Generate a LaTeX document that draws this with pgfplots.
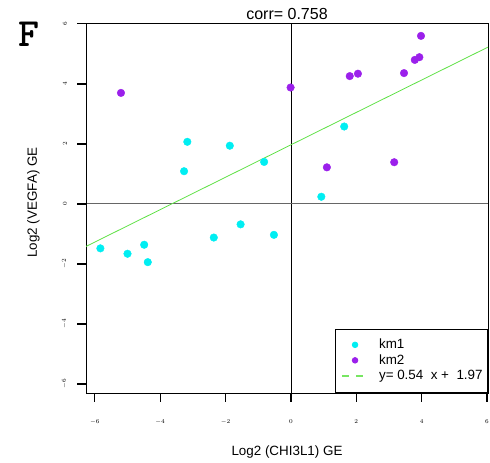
\documentclass[border=0pt]{standalone}
\usepackage{pgfplots}
\pgfplotsset{compat=1.18}
\usepackage{fontspec}
\setmainfont{Liberation Sans}
\definecolor{kmone}{RGB}{0,238,242}
\definecolor{kmtwo}{RGB}{155,32,235}
\definecolor{fitgreen}{RGB}{95,225,70}

\begin{document}
\begin{tikzpicture}[x=1bp,y=1bp]
\path[use as bounding box] (0,0) rectangle (490,463);
\node[anchor=base, font=\ttfamily\bfseries\fontsize{40bp}{42bp}\selectfont] at (29,416) {F};
\begin{axis}[
  at={(86bp,70bp)}, anchor=south west,
  scale only axis, width=402bp, height=370bp,
  xmin=-6.27, xmax=6.03, ymin=-6.3, ymax=6.03,
  xtick={-6,-4,...,6}, ytick={-6,-4,...,6},
  tick pos=left, tick align=outside, major tick length=9bp,
  tick style={black, line width=1.2bp},
  axis line style={line width=0.8bp},
  ticklabel style={font=\fontsize{5.5bp}{6bp}\selectfont, inner sep=0pt},
  yticklabel style={rotate=90, anchor=south},
  yticklabel shift=10bp,
  xticklabel style={anchor=north, yshift=-17bp},
  title={corr= 0.758},
  title style={at={(axis description cs:0.5,1.0054)}, anchor=base, yshift=-4bp,
    font=\fontsize{16bp}{18bp}\selectfont},
  xlabel={Log2 (CHI3L1) GE},
  xlabel style={at={(axis description cs:0.5,-0.1676)}, anchor=base,
    font=\fontsize{13.4bp}{15bp}\selectfont},
  ylabel={Log2 (VEGFA) GE},
  ylabel style={at={(axis description cs:-0.1219,0.515)}, anchor=base, rotate=0,
    font=\fontsize{13.4bp}{15bp}\selectfont},
  legend cell align=left,
  legend style={at={(axis description cs:1,0)}, anchor=south east,
    draw=black, line width=0.8bp, fill=white,
    font=\fontsize{13.4bp}{15bp}\selectfont,
    inner xsep=5bp, inner ysep=9.5bp, row sep=2bp, column sep=13bp,
    nodes={inner sep=0pt, text height=10bp, text depth=3.5bp}},
]
% zero lines
\addplot[forget plot, black, line width=0.7bp] coordinates {(0,-6.3) (0,6.03)};
\addplot[forget plot, black!60, line width=1bp] coordinates {(-6.27,0) (6.03,0)};
% left axis drawn heavier, as in the original
\addplot[forget plot, black, line width=1.4bp] coordinates {(-6.27,-6.3) (-6.27,6.03)};
% fitted line y = 0.54 x + 1.97
\addplot[forget plot, fitgreen, line width=0.8bp] coordinates {(-6.27,-1.416) (6.03,5.226)};
% km1
\addplot[only marks, mark=*, mark size=3.8bp, color=kmone,
  legend image code/.code={\path[draw=none,fill=none] (0,0) -- (26bp,0); \fill[kmone] (15bp,0.5bp) circle (2.8bp);}]
coordinates {
(-5.83,-1.48) (-5.00,-1.66) (-4.49,-1.36) (-4.38,-1.94)
(-3.17,2.07) (-3.27,1.09) (-1.87,1.94) (-2.36,-1.12)
(-1.54,-0.68) (-0.82,1.40) (-0.52,-1.03) (0.93,0.24) (1.63,2.58)
};
\addlegendentry{km1}
% km2
\addplot[only marks, mark=*, mark size=3.8bp, color=kmtwo,
  legend image code/.code={\path[draw=none,fill=none] (0,0) -- (26bp,0); \fill[kmtwo] (15bp,0.5bp) circle (2.8bp);}]
coordinates {
(1.10,1.22) (3.16,1.39) (-5.20,3.70) (-0.01,3.88) (1.80,4.26)
(2.05,4.34) (3.46,4.36) (3.79,4.80) (3.93,4.89) (3.98,5.60)
};
\addlegendentry{km2}
\addlegendimage{legend image code/.code={\path[draw=none,fill=none] (0,0) -- (26bp,0); \draw[draw=fitgreen!85, line width=1.6bp, dash pattern=on 7bp off 7bp] (2bp,0.5bp) -- (24bp,0.5bp);}}
\addlegendentry{y= 0.54\ \ x +\ \ 1.97}
\end{axis}
\end{tikzpicture}
\end{document}
